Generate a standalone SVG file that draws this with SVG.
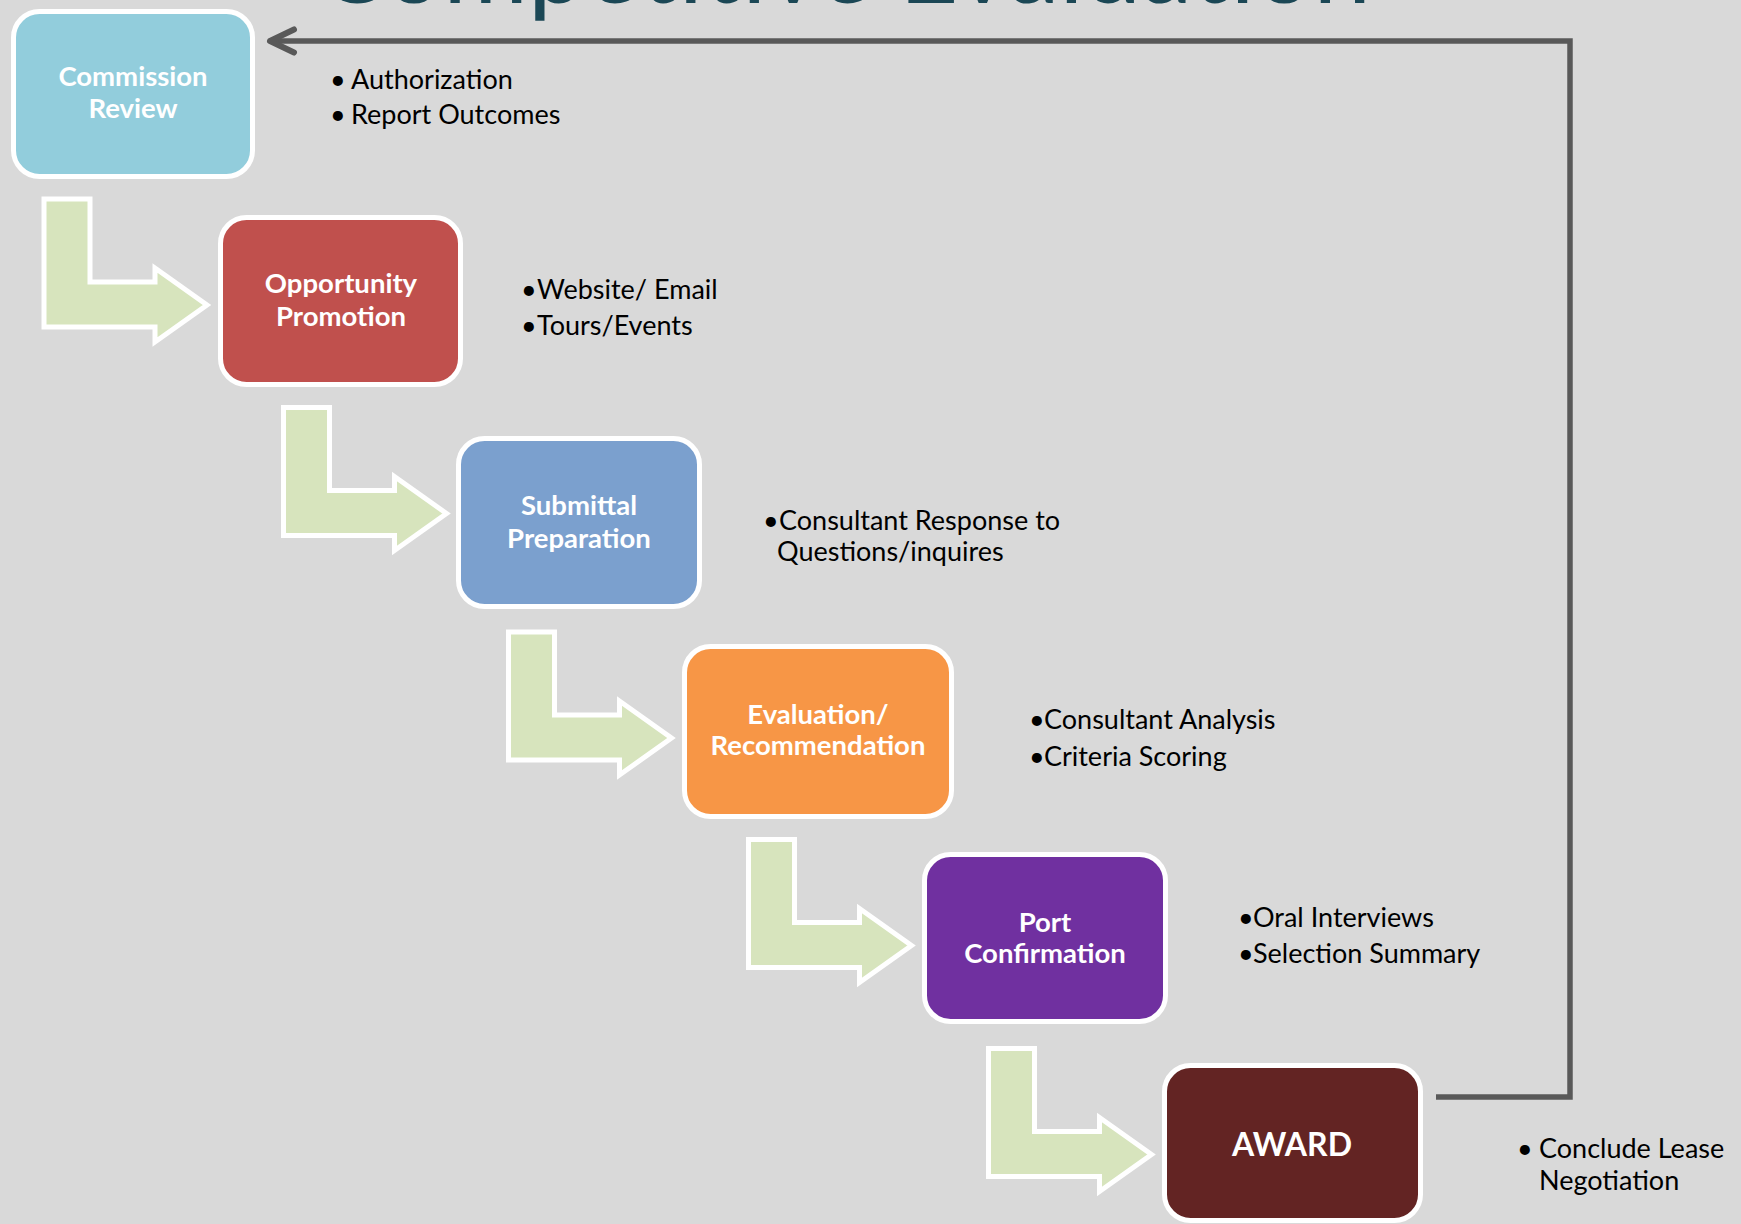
<svg xmlns="http://www.w3.org/2000/svg" xmlns:xlink="http://www.w3.org/1999/xlink" width="1741" height="1224" viewBox="0 0 1741 1224">
  <style>
    .box { stroke: #FFFFFF; stroke-width: 5; }
    .lbl { font-family: Lato, "Open Sans", "Liberation Sans", sans-serif; font-weight: bold; font-size: 27.5px; fill: #FFFFFF; text-anchor: middle; }
    .award { font-size: 32px; }
    .note { font-family: Lato, "Open Sans", "Liberation Sans", sans-serif; font-size: 27px; fill: #000000; }
    .title { font-family: Lato, "Open Sans", "Liberation Sans", sans-serif; font-size: 103px; fill: #1B4755; text-anchor: middle; }
    .larrow { fill: #D7E4BD; stroke: #FFFFFF; stroke-width: 5; stroke-linejoin: miter; }
    .ret { fill: none; stroke: #595959; stroke-width: 5.5; stroke-linejoin: miter; }
  </style>
  <defs>
    <polygon id="lshape" points="0,0 46,0 46,83 111,83 111,69 163,106 111,143 111,128 0,128"/>
    <marker id="chev" markerUnits="userSpaceOnUse" viewBox="-32 -18 40 36" markerWidth="40" markerHeight="36" refX="0" refY="0" orient="auto">
      <path d="M-24,-11.5 L0,0 L-24,11.5" fill="none" stroke="#595959" stroke-width="6" stroke-linecap="round" stroke-linejoin="round"/>
    </marker>
  </defs>
  <rect x="0" y="0" width="1741" height="1224" fill="#D9D9D9"/>

  <text class="title" x="844" y="3">Competitive Evaluation</text>

  <g id="connectors">
    <use xlink:href="#lshape" href="#lshape" class="larrow" x="44" y="199"/>
    <use xlink:href="#lshape" href="#lshape" class="larrow" x="283.5" y="407.5"/>
    <use xlink:href="#lshape" href="#lshape" class="larrow" x="508.5" y="632"/>
    <use xlink:href="#lshape" href="#lshape" class="larrow" x="748.5" y="839.5"/>
    <use xlink:href="#lshape" href="#lshape" class="larrow" x="988.5" y="1048.5"/>
    <path class="ret" d="M1436,1097 H1570 V41 H270" marker-end="url(#chev)"/>
  </g>

  <g id="commission-review">
    <rect class="box" x="13.5" y="11.5" width="239" height="165" rx="26" fill="#92CDDC"/>
    <text class="lbl" x="133" y="86">Commission</text>
    <text class="lbl" x="133" y="118">Review</text>
    <text class="note"><tspan x="330" y="89">•</tspan><tspan x="351" y="89">Authorization</tspan></text>
    <text class="note"><tspan x="330" y="124">•</tspan><tspan x="351" y="124">Report Outcomes</tspan></text>
  </g>

  <g id="opportunity-promotion">
    <rect class="box" x="220.5" y="217.5" width="240" height="167" rx="26" fill="#C0504D"/>
    <text class="lbl" x="341" y="293">Opportunity</text>
    <text class="lbl" x="341" y="326">Promotion</text>
    <text class="note"><tspan x="521" y="299">•</tspan><tspan x="537" y="299">Website/ Email</tspan></text>
    <text class="note"><tspan x="521" y="335">•</tspan><tspan x="537" y="335">Tours/Events</tspan></text>
  </g>

  <g id="submittal-preparation">
    <rect class="box" x="458.5" y="438.5" width="241" height="168" rx="26" fill="#7BA0CE"/>
    <text class="lbl" x="579" y="515">Submittal</text>
    <text class="lbl" x="579" y="548">Preparation</text>
    <text class="note"><tspan x="763" y="530">•</tspan><tspan x="779" y="530">Consultant Response to</tspan></text>
    <text class="note" x="777" y="561">Questions/inquires</text>
  </g>

  <g id="evaluation-recommendation">
    <rect class="box" x="684.5" y="646.5" width="267" height="170" rx="26" fill="#F79646"/>
    <text class="lbl" x="818" y="724">Evaluation/</text>
    <text class="lbl" x="818" y="755">Recommendation</text>
    <text class="note"><tspan x="1029" y="729">•</tspan><tspan x="1044" y="729">Consultant Analysis</tspan></text>
    <text class="note"><tspan x="1029" y="766">•</tspan><tspan x="1044" y="766">Criteria Scoring</tspan></text>
  </g>

  <g id="port-confirmation">
    <rect class="box" x="924.5" y="854.5" width="241" height="167" rx="26" fill="#7030A0"/>
    <text class="lbl" x="1045" y="932">Port</text>
    <text class="lbl" x="1045" y="963">Confirmation</text>
    <text class="note"><tspan x="1238" y="927">•</tspan><tspan x="1253" y="927">Oral Interviews</tspan></text>
    <text class="note"><tspan x="1238" y="963">•</tspan><tspan x="1253" y="963">Selection Summary</tspan></text>
  </g>

  <g id="award">
    <rect class="box" x="1164.5" y="1065.5" width="256" height="155" rx="26" fill="#632423"/>
    <text class="lbl award" x="1292" y="1156">AWARD</text>
    <text class="note"><tspan x="1517" y="1158">•</tspan><tspan x="1539" y="1158">Conclude Lease</tspan></text>
    <text class="note" x="1539" y="1190">Negotiation</text>
  </g>
</svg>
